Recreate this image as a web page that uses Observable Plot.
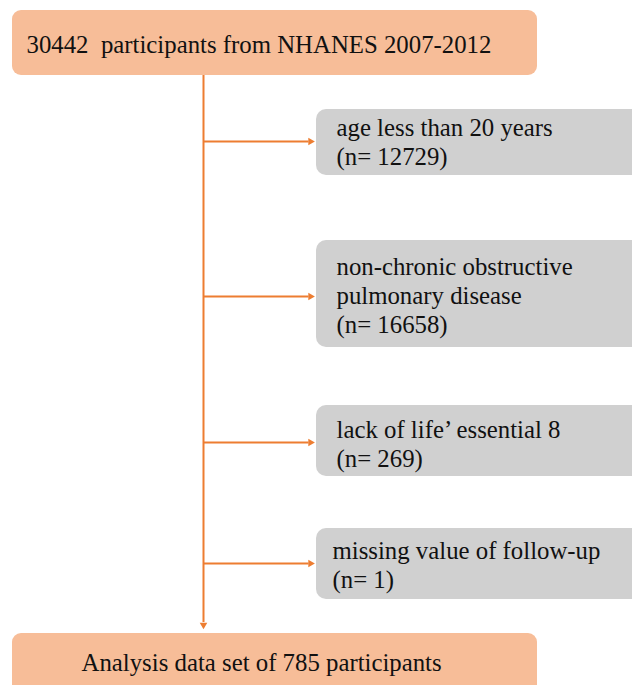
<!DOCTYPE html>
<html>
<head>
<meta charset="utf-8">
<script src="https://cdn.jsdelivr.net/npm/d3@7"></script>
<script src="https://cdn.jsdelivr.net/npm/@observablehq/plot@0.6"></script>
<style>
  html, body { margin: 0; padding: 0; background: #fff; }
</style>
</head>
<body>
<div id="chart"></div>
<script>
// ---- content ----
const startLabel = "30442  participants from NHANES 2007-2012";
const endLabel = "Analysis data set of 785 participants";
const exclusionCriteria = [
  "age less than 20 years",
  "non-chronic obstructive\npulmonary disease",
  "lack of life’ essential 8",
  "missing value of follow-up"
];
const exclusionCounts = [12729, 16658, 269, 1];

// ---- layout (pixel coordinates of the flow diagram) ----
const W = 632, H = 685;
const trunkX = 203;
const mainBoxes = [
  {x1: 12, x2: 537, y1: 10, y2: 75, tx: 26, ty: 52, label: startLabel},
  {x1: 12, x2: 537, y1: 633, y2: 700, tx: 81, ty: 670, label: endLabel}
];
const exclBoxY = [[109, 175], [240, 347], [405, 476], [528, 599]];
const exclArrowY = [141, 296, 442, 563];
const exclTextY = [135, 274, 437, 558];
const exclTextX = [336, 336, 336, 332];
const lineStep = 29;

const exclBoxes = exclusionCriteria.map((c, i) => ({
  x1: 316, x2: 660, y1: exclBoxY[i][0], y2: exclBoxY[i][1]
}));
const exclLines = exclusionCriteria.flatMap((c, i) => {
  const lines = [...c.split("\n"), `(n= ${exclusionCounts[i]})`];
  return lines.map((t, j) => ({x: exclTextX[i], y: exclTextY[i] + j * lineStep, text: t}));
});
const branches = exclArrowY.map(y => ({x1: trunkX, x2: 308, y}));
const heads = [
  ...exclArrowY.map(y => ({x: 310, y, rotate: 90})),
  {x: trunkX, y: 624.5, rotate: 180}
];

const orangeFill = "#f7bd98";
const orangeLine = "#ed7d31";
const greyFill = "#d0d0d0";
const font = "'Liberation Serif', 'Times New Roman', serif";

const chart = Plot.plot({
  width: W,
  height: H,
  margin: 0,
  x: {domain: [0, W], range: [0, W], axis: null},
  y: {domain: [0, H], range: [0, H], axis: null},
  style: {background: "#fff", fontFamily: font},
  marks: [
    Plot.rect(mainBoxes, {x1: "x1", x2: "x2", y1: "y1", y2: "y2", fill: orangeFill, rx: 9}),
    Plot.rect(exclBoxes, {x1: "x1", x2: "x2", y1: "y1", y2: "y2", fill: greyFill, rx: 10}),
    Plot.ruleX([trunkX], {y1: 75, y2: 622, stroke: orangeLine, strokeWidth: 2}),
    Plot.link(branches, {x1: "x1", x2: "x2", y1: "y", y2: "y", stroke: orangeLine, strokeWidth: 2}),
    Plot.dot(heads, {x: "x", y: "y", rotate: "rotate", symbol: "triangle2", r: 3.6, fill: orangeLine}),
    Plot.text(mainBoxes, {x: "tx", y: "ty", text: "label", textAnchor: "start", lineAnchor: "bottom",
      fontSize: 24.8, fill: "#111", fontFamily: font}),
    Plot.text(exclLines, {x: "x", y: "y", text: "text", textAnchor: "start", lineAnchor: "bottom",
      fontSize: 24.8, fill: "#111", fontFamily: font})
  ]
});
document.getElementById("chart").appendChild(chart);
</script>
</body>
</html>
